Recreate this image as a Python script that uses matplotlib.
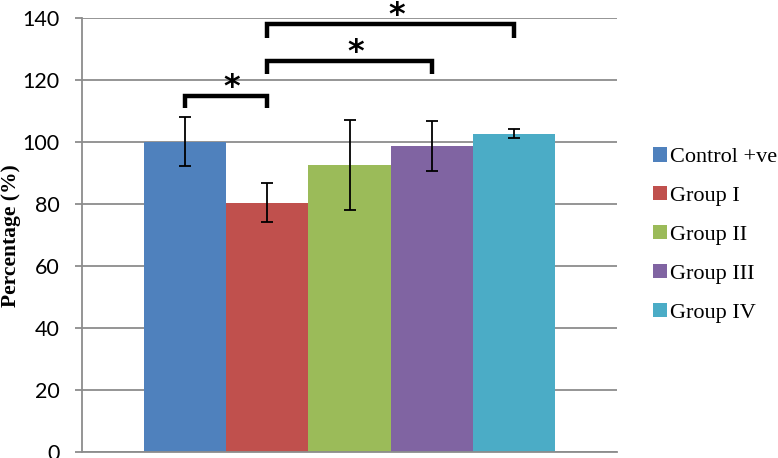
import matplotlib
matplotlib.use("Agg")
import matplotlib.pyplot as plt
from matplotlib.patches import Patch

# ---- data ----
groups = ["Control +ve", "Group I", "Group II", "Group III", "Group IV"]
values = [100.1, 80.5, 92.7, 98.8, 102.8]
errors = [7.9, 6.3, 14.5, 8.2, 1.6]
colors = ["#4F81BD", "#C0504D", "#9BBB59", "#8064A2", "#4BACC6"]
yticks = [0, 20, 40, 60, 80, 100, 120, 140]
ylabel = "Percentage (%)"

# significance brackets: (start bar index, end bar index, bracket height, leg bottom)
bracket_pairs = [(0, 1), (1, 3), (1, 4)]
bracket_tops = [114.8, 126.1, 138.3]
bracket_bottoms = [110.9, 121.9, 133.8]
sig_label = "*"

fig = plt.figure(figsize=(7.78, 4.58), dpi=100)
ax = fig.add_axes([82 / 778, 1 - 452 / 458, (617 - 82) / 778, (452 - 18.3) / 458])

x = list(range(len(groups)))
ax.bar(x, values, width=1.0, color=colors, zorder=2)
ax.errorbar(x, values, yerr=errors, fmt="none", ecolor="black", elinewidth=1.3,
            capsize=4, capthick=1.3, zorder=3)

ax.set_xlim(-1.25, 5.25)
ax.set_ylim(0, 140)
ax.set_yticks(yticks)
ax.set_xticks([])
ax.yaxis.grid(True, color="#8c8c8c", linewidth=1.3, zorder=0)
ax.set_axisbelow(True)
for s in ["top", "right"]:
    ax.spines[s].set_visible(False)
for s in ["left", "bottom"]:
    ax.spines[s].set_color("#8c8c8c")
    ax.spines[s].set_linewidth(1.3)
ax.tick_params(axis="y", length=5, width=1.3, color="#8c8c8c", pad=11,
               labelsize=15.5, labelcolor="black")
for lab in ax.get_yticklabels():
    lab.set_fontfamily("Lato")

ax.set_ylabel(ylabel, family="Liberation Serif", fontweight="bold", fontsize=15.5)
ax.yaxis.set_label_coords((11 - 82) / 535, 0.5)
ax.yaxis.label.set_va("center")

# brackets
for (a, b), top, bot in zip(bracket_pairs, bracket_tops, bracket_bottoms):
    ax.plot([a, a, b, b], [bot, top, top, bot], color="black", linewidth=3.2,
            solid_joinstyle="miter", solid_capstyle="butt", clip_on=False, zorder=4)
    ax.text((a + b) / 2 + 0.07, top - 2.3, sig_label, ha="center", va="bottom",
            fontsize=23, fontweight="bold", family="DejaVu Sans", clip_on=False)

handles = [Patch(facecolor=c, edgecolor="none") for c in colors]
leg = fig.legend(handles, groups, loc="center left", bbox_to_anchor=(653 / 778, 1 - 235 / 458),
                 frameon=False, prop={"family": "Liberation Serif", "size": 16},
                 handlelength=0.62, handleheight=0.62, handletextpad=0.15,
                 labelspacing=0.85, borderaxespad=0, borderpad=0)

fig.savefig("out.png", dpi=100)
